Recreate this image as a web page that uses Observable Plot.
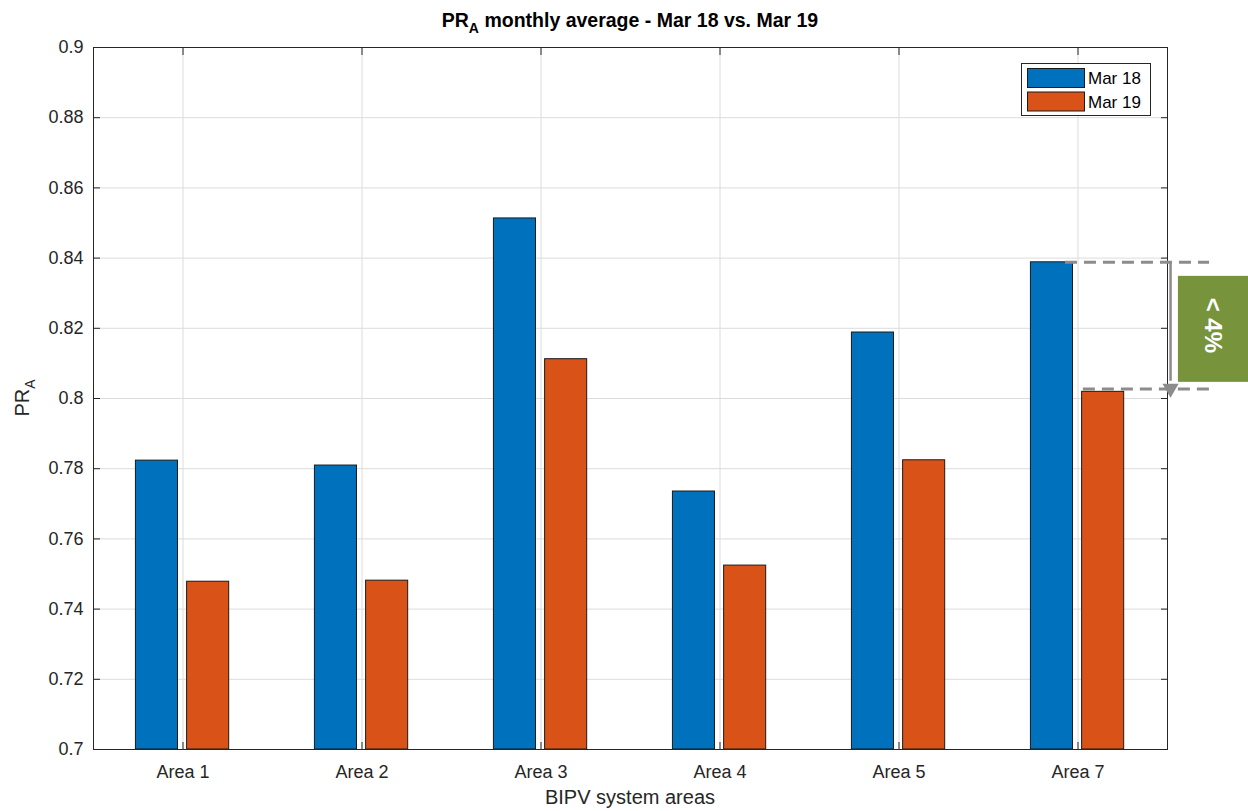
<!DOCTYPE html>
<html>
<head>
<meta charset="utf-8">
<script src="https://cdn.jsdelivr.net/npm/d3@7"></script>
<script src="https://cdn.jsdelivr.net/npm/@observablehq/plot@0.6"></script>
<style>
  html, body { margin: 0; padding: 0; background: #fff; }
  #chart svg { display: block; font-family: "Liberation Sans", Arial, Helvetica, sans-serif; }
</style>
</head>
<body>
<div id="chart"></div>
<script>
// ---- data ----
const categories = ["Area 1", "Area 2", "Area 3", "Area 4", "Area 5", "Area 7"];
const seriesNames = ["Mar 18", "Mar 19"];
const mar18 = [0.7823, 0.7809, 0.8513, 0.7735, 0.8188, 0.8388];
const mar19 = [0.7478, 0.7481, 0.8112, 0.7524, 0.7824, 0.8019];
const seriesColors = ["#0072BD", "#D95319"];
const yTicks = [0.7, 0.72, 0.74, 0.76, 0.78, 0.8, 0.82, 0.84, 0.86, 0.88, 0.9];
const annotationText = "< 4%";

const FONT = '"Liberation Sans", Arial, Helvetica, sans-serif';
const INK = "#262626";

const seriesValues = [mar18, mar19];
const bars = [];
categories.forEach((c, i) => {
  seriesValues.forEach((vals, s) => {
    bars.push({cat: c, pos: i + 1, series: seriesNames[s], s, value: vals[i]});
  });
});
// bar extents relative to the category position (in category units)
const barOffsets = [[-0.263, -0.028], [0.023, 0.258]];

const lastIdx = categories.length - 1;
const topVal = mar18[lastIdx];
const botVal = mar19[lastIdx];
const xPos = categories.map((c, i) => i + 1);
const fmt = d => String(+d.toFixed(2));

const plot = Plot.plot({
  width: 1248,
  height: 811,
  marginLeft: 93,
  marginRight: 81,
  marginTop: 47,
  marginBottom: 62,
  style: {fontFamily: FONT, background: "#fff", overflow: "visible"},
  x: {type: "linear", domain: [0.5, categories.length + 0.5]},
  y: {type: "linear", domain: [0.7, 0.9]},
  marks: [
    Plot.gridX(xPos, {stroke: "#dcdcdc", strokeOpacity: 1}),
    Plot.gridY(yTicks, {stroke: "#dcdcdc", strokeOpacity: 1}),
    Plot.rectY(bars, {
      x1: d => d.pos + barOffsets[d.s][0],
      x2: d => d.pos + barOffsets[d.s][1],
      y1: 0.7,
      y2: "value",
      fill: d => seriesColors[d.s],
      stroke: "#1a1a1a",
      strokeWidth: 1
    }),
    Plot.axisY({anchor: "left", ticks: yTicks, tickSize: -7, tickPadding: 17, tickFormat: fmt, label: null, fontSize: 18, color: INK}),
    Plot.axisY({anchor: "right", ticks: yTicks, tickSize: -7, tickFormat: () => "", label: null, color: INK}),
    Plot.axisX({anchor: "bottom", ticks: xPos, tickSize: -7, tickPadding: 23, tickFormat: d => categories[d - 1], label: null, fontSize: 18, color: INK}),
    Plot.axisX({anchor: "top", ticks: xPos, tickSize: -7, tickFormat: () => "", label: null, color: INK}),
    Plot.frame({stroke: INK, strokeWidth: 1}),
    // annotation: dashed guide lines
    Plot.ruleY([topVal], {x1: 5.93, x2: 6.735, stroke: "#8c8c8c", strokeWidth: 3, strokeDasharray: "12,7", clip: false}),
    Plot.ruleY([botVal + 0.0008], {x1: 6.03, x2: 6.757, stroke: "#8c8c8c", strokeWidth: 3, strokeDasharray: "12,7", clip: false}),
    // arrow
    Plot.ruleX([6.517], {y1: topVal, y2: botVal + 0.003, stroke: "#8c8c8c", strokeWidth: 2.5}),
    Plot.dot([{x: 6.517, y: botVal + 0.001}], {x: "x", y: "y", symbol: "triangle", r: 6, fill: "#8c8c8c", stroke: "none", rotate: 180}),
    // green label box
    Plot.rect([{x1: 6.561, x2: 6.99, y1: 0.8046, y2: 0.8348}], {x1: "x1", x2: "x2", y1: "y1", y2: "y2", fill: "#77933C"}),
    Plot.text([annotationText], {x: 6.75, y: (topVal + botVal) / 2 + 0.0005, text: d => d, rotate: 90, fill: "#fff", fontSize: 24, fontWeight: "bold"})
  ]
});

const svg = d3.select(plot);

// title with subscript
const title = svg.append("text")
  .attr("x", (93 + 1167) / 2).attr("y", 27)
  .attr("text-anchor", "middle")
  .attr("font-family", FONT).attr("font-size", 19.5).attr("font-weight", "bold").attr("fill", "#000");
title.append("tspan").text("PR");
title.append("tspan").attr("font-size", 14).attr("dy", 6).text("A");
title.append("tspan").attr("dy", -6).text(" monthly average - " + seriesNames[0] + " vs. " + seriesNames[1]);

// x label
svg.append("text")
  .attr("x", (93 + 1167) / 2).attr("y", 804)
  .attr("text-anchor", "middle")
  .attr("font-family", FONT).attr("font-size", 20).attr("fill", INK)
  .text("BIPV system areas");

// y label with subscript
const yl = svg.append("text")
  .attr("transform", "translate(29,398) rotate(-90)")
  .attr("text-anchor", "middle")
  .attr("font-family", FONT).attr("font-size", 20).attr("fill", INK);
yl.append("tspan").text("PR");
yl.append("tspan").attr("font-size", 14).attr("dy", 6).text("A");

// legend
const lg = svg.append("g").attr("font-family", FONT).attr("text-anchor", "start");
lg.append("rect").attr("x", 1021.5).attr("y", 63.5).attr("width", 129).attr("height", 52)
  .attr("fill", "#fff").attr("stroke", INK).attr("stroke-width", 1);
seriesNames.forEach((name, i) => {
  const y0 = 68 + i * 23.5;
  lg.append("rect").attr("x", 1027.5).attr("y", y0 + 0.5).attr("width", 57).attr("height", 19)
    .attr("fill", seriesColors[i]).attr("stroke", "#1a1a1a");
  lg.append("text").attr("x", 1088).attr("y", y0 + 16).attr("text-anchor", "start")
    .attr("font-size", 17).attr("fill", "#000").text(name);
});

document.getElementById("chart").appendChild(plot);
</script>
</body>
</html>
